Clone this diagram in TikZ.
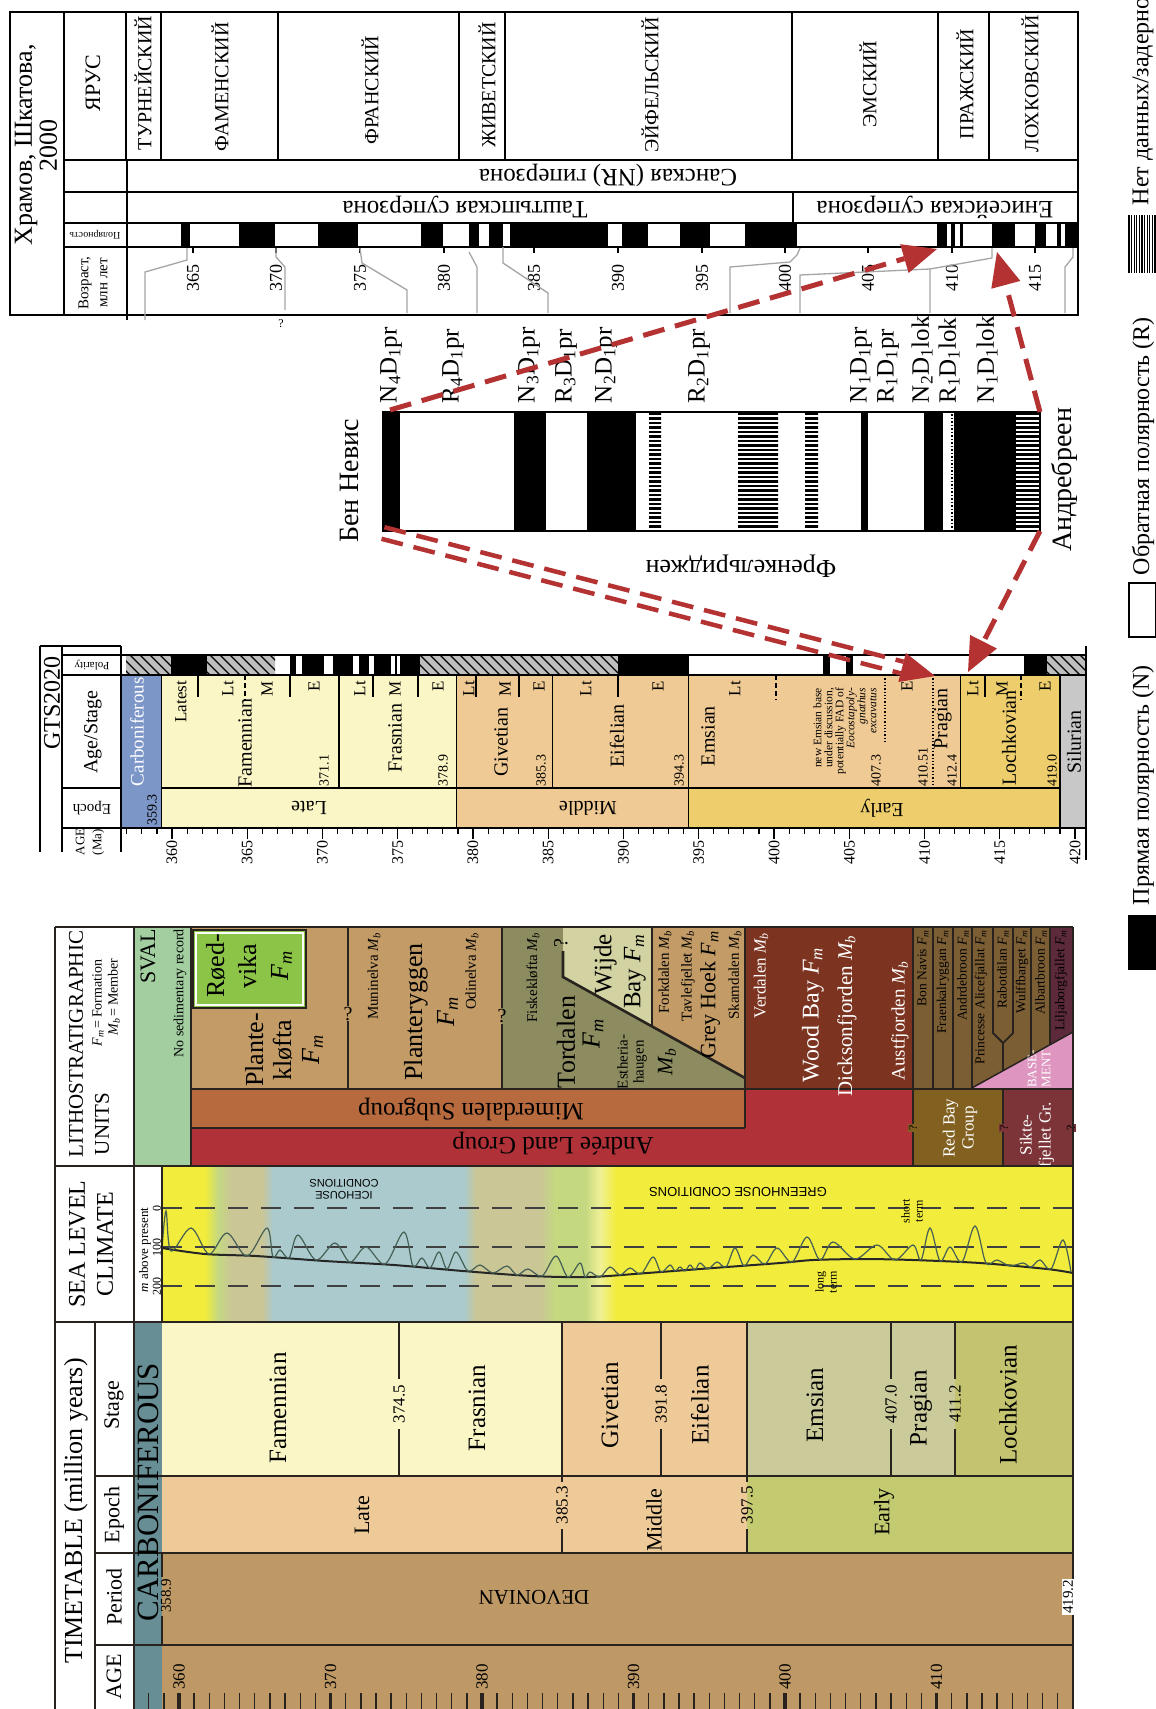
\documentclass[tikz,border=0pt]{standalone}
\usepackage{fontspec}
\setmainfont{Liberation Serif}
\newfontfamily\sansf{Liberation Sans}
\usetikzlibrary{arrows.meta}
\newcommand\fz[2]{\fontsize{#1}{#2}\selectfont}
\newcommand\Fm{\textit{F\textsubscript{m}}}
\newcommand\Mb{\textit{M\textsubscript{b}}}
\newcommand\pl[3]{#1\textsubscript{#2}D\textsubscript{1}#3}
\definecolor{redA}{RGB}{180,50,50}
\definecolor{greyL}{RGB}{165,165,165}
\definecolor{carbB}{RGB}{125,150,200}
\definecolor{lateY}{RGB}{250,246,198}
\definecolor{midT}{RGB}{240,202,148}
\definecolor{earlyY}{RGB}{238,206,108}
\definecolor{silG}{RGB}{200,200,200}
\definecolor{hatG}{RGB}{190,190,190}
\definecolor{tanL}{RGB}{237,202,152}
\definecolor{emsG}{RGB}{203,202,155}
\definecolor{lochO}{RGB}{196,196,112}
\definecolor{earlyG}{RGB}{196,202,112}
\definecolor{devB}{RGB}{190,153,102}
\definecolor{carbT}{RGB}{102,142,148}
\definecolor{seaY}{RGB}{242,236,60}
\definecolor{paleY}{RGB}{240,240,150}
\definecolor{iceB}{RGB}{170,202,205}
\definecolor{khaki}{RGB}{202,198,150}
\definecolor{lgreen}{RGB}{196,216,128}
\definecolor{svalG}{RGB}{162,206,160}
\definecolor{roedG}{RGB}{140,196,72}
\definecolor{planT}{RGB}{194,155,102}
\definecolor{tordO}{RGB}{140,140,96}
\definecolor{wijK}{RGB}{210,210,162}
\definecolor{woodR}{RGB}{124,52,32}
\definecolor{rightB}{RGB}{124,94,52}
\definecolor{mimO}{RGB}{182,106,62}
\definecolor{andR}{RGB}{176,50,56}
\definecolor{redbayB}{RGB}{130,96,32}
\definecolor{sikteR}{RGB}{124,52,56}
\definecolor{liljaP}{RGB}{92,42,58}
\definecolor{baseP}{RGB}{222,150,192}
\definecolor{lineD}{RGB}{40,35,30}
\definecolor{curveG}{RGB}{70,95,85}
\tikzset{
  t/.style={inner sep=0pt, outer sep=0pt},
  r9/.style={t, rotate=90},
  r18/.style={t, rotate=180},
  lk/.style={line width=1.3pt, draw=black},
  lg/.style={line width=1.3pt, draw=black},
  ld/.style={line width=2.6pt, draw=lineD},
  gl/.style={line width=1.3pt, draw=greyL},
  redarr/.style={draw=redA, line width=5pt, dash pattern=on 22pt off 11pt},
  tip/.style={fill=redA},
}
\begin{document}
\begin{tikzpicture}[x=1pt,y=-1pt]
\useasboundingbox (0,0) rectangle (1156,1709);
\fill[white] (0,0) rectangle (1156,1709);

%% ================= KHRAMOV PANEL =================
\foreach \a/\b in {181/190,239/275,318/358,421/443,469/479,489/503,510/608,622/648,680/710,745/797,937/947,951/955,960/963,992/1015,1035/1046,1057/1061,1065/1078}
  \fill[black] (\a,223) rectangle (\b,247);
\draw[lk] (10,12) rectangle (1078,315);
\draw[lk] (64,12) -- (64,315);
\draw[lk] (126,12) -- (126,160);
\draw[line width=2.6pt] (127,160) -- (127,320);
\foreach \y in {160,192,223,247} \draw[lk] (64,\y) -- (1078,\y);
\foreach \x in {161,278,459,505,792,938,989} \draw[lk] (\x,12) -- (\x,160);
\draw[lk] (793,192) -- (793,223);
\foreach \x/\l in {193/365,276/370,360/375,444/380,534/385,618/390,702/395,785/400,868/405,952/410,1035/415}{
  \draw[line width=1.8pt] (\x,247) -- (\x,253);
  \node[r9,font=\fz{18}{18}] (k\l) at (\x,278) {\l};
}
% grey correlation lines
\draw[gl] (187,248) -- (187,260) -- (145,272) -- (145,320);
\draw[gl] (276,248) -- (276,257) -- (285,267) -- (285,310);
\draw[gl] (360,248) -- (362,263) -- (407,290) -- (407,313);
\draw[gl] (469,252) -- (477,267) -- (477,313);
\draw[gl] (503,247) -- (503,263) -- (548,293) -- (548,313);
\draw[gl] (800,248) -- (797,255) -- (790,262) -- (730,267) -- (730,313);
\draw[gl] (800,313) -- (800,275) -- (930,269);
\draw[gl] (992,248) -- (992,258) -- (930,269) -- (930,313);
\draw[gl] (1073,248) -- (1073,257) -- (1065,267) -- (1065,313);
\node[t,font=\fz{12}{12}] (kq) at (281,324) {?};
% texts
\node[r9,align=center,font=\fz{26}{25}] (kh) at (36,145) {Храмов, Шкатова,\\2000};
\node[r9,font=\fz{22}{22}] (kyar) at (93,83) {ЯРУС};
\node[r18,font=\fz{10}{10}] (kpol) at (95,235) {Полярность};
\node[r9,align=center,font=\fz{15}{19}] (kvoz) at (93,283) {Возраст,\\млн лет};
\node[r9,font=\fz{20}{20}] (s1) at (143,83) {ТУРНЕЙСКИЙ};
\node[r9,font=\fz{20}{20}] (s2) at (220,87) {ФАМЕНСКИЙ};
\node[r9,font=\fz{20}{20}] (s3) at (370,90) {ФРАНСКИЙ};
\node[r9,font=\fz{20}{20}] (s4) at (487,85) {ЖИВЕТСКИЙ};
\node[r9,font=\fz{20}{20}] (s5) at (650,85) {ЭЙФЕЛЬСКИЙ};
\node[r9,font=\fz{20}{20}] (s6) at (868,84) {ЭМСКИЙ};
\node[r9,font=\fz{20}{20}] (s7) at (965,84) {ПРАЖСКИЙ};
\node[r9,font=\fz{20}{20}] (s8) at (1030,84) {ЛОХКОВСКИЙ};
\node[r18,font=\fz{25}{25}] (ksan) at (608,176) {Санская (NR) гиперзона};
\node[r18,font=\fz{25}{25}] (ktash) at (465,207) {Таштыпская суперзона};
\node[r18,font=\fz{25}{25}] (kenis) at (935,207) {Енисейская суперзона};

%% ================= LEGEND =================
\fill[black] (1128,915) rectangle (1156,970);
\node[r9,anchor=west,font=\fz{24}{24}] (lg1) at (1143,905) {Прямая полярность (N)};
\draw[line width=1.3pt] (1129,583) rectangle (1156,637);
\node[r9,anchor=west,font=\fz{24}{24}] (lg2) at (1143,575) {Обратная полярность (R)};
\foreach \x in {1129,1131.6,...,1156} \draw[line width=1.2pt] (\x,215) -- (\x,273);
\node[r9,anchor=west,font=\fz{24}{24}] (lg3) at (1143,205) {Нет данных/задерно};

%% ================= BEN NEVIS BAR =================
\fill[white] (383,412) rectangle (1040,531);
\foreach \a/\b in {383/400,514/546,587/636,861/868,924/943,954/1016}
  \fill[black] (\a,412) rectangle (\b,531);
\begin{scope}
  \clip (649,412) rectangle (661,531) (738,412) rectangle (778,531) (805,412) rectangle (818,531) (1016,412) rectangle (1040,531);
  \foreach \y in {414,418.5,...,531} \draw[line width=2.2pt] (640,\y) -- (1045,\y);
\end{scope}
\draw[line width=1.5pt, dotted] (952,414) -- (952,530);
\draw[line width=2.6pt] (383,412) rectangle (1040,531);
\coordinate (bTL) at (390,410);
\coordinate (bBL) at (383,533);
\coordinate (bTR) at (1040,412);
\coordinate (bBR) at (1040,531);
\foreach \x/\n/\s/\e/\nm in {391/N/4/pr/b1,453/R/4/pr/b2,529/N/3/pr/b3,566/R/3/pr/b4,606/N/2/pr/b5,699/R/2/pr/b6,861/N/1/pr/b7,888/R/1/pr/b8,922/N/2/lok/b9,949/R/1/lok/b10,987/N/1/lok/b11}
  \node[r9,anchor=west,font=\fz{25}{25}] (\nm) at (\x,403) {\pl{\n}{\s}{\e}};
\node[r9,font=\fz{28}{28}] (ben) at (349,481) {Бен Невис};
\node[r9,font=\fz{28}{28}] (andr) at (1064,480) {Андребреен};
\node[r18,font=\fz{26}{26}] (fren) at (741,566) {Френкельриджен};

%% ================= GTS2020 PANEL =================
\begin{scope}
  \clip (126,655) rectangle (171,675) (207,655) rectangle (275,675) (420,655) rectangle (618,675) (1047,655) rectangle (1086,675);
  \fill[hatG] (121,655) rectangle (1086,675);
  \foreach \x in {90,100,...,1090} \draw[line width=1.1pt] (\x,655) -- (\x+20,675);
\end{scope}
\foreach \a/\b in {171/207,290/296,302/324,333/353,359/369,374/391,395/397,400/420,618/689,823/830,846/853,1024/1047}
  \fill[black] (\a,655) rectangle (\b,675);
\fill[carbB] (121,675) rectangle (161.5,828);
\fill[lateY] (161.5,675) rectangle (456.4,828);
\fill[midT] (456.4,675) rectangle (960.6,788);
\fill[midT] (456.4,788) rectangle (688.2,828);
\fill[earlyY] (960.6,675) rectangle (1060,788);
\fill[earlyY] (688.2,788) rectangle (1060,828);
\fill[silG] (1060,675) rectangle (1086,828);
\draw[lg] (121,655) -- (1086,655);
\draw[lg] (121,675) -- (1086,675);
\draw[lg] (161.5,788) -- (1060,788);
\draw[lg] (121,828) -- (1086,828);
\draw[lg] (40,646) -- (40,852);
\draw[lg] (40,646) -- (121,646);
\draw[lg] (62,646) -- (62,852);
\draw[lg] (121,646) -- (121,852);
\draw[lg] (1086,646) -- (1086,860);
\draw[lg] (62,655) -- (121,655);
\draw[lg] (62,675) -- (121,675);
\draw[lg] (62,788) -- (121,788);
\draw[lg] (62,828) -- (121,828);
\foreach \x in {161.5,456.4,688.2,1060} \draw[lg] (\x,675) -- (\x,828);
\foreach \x in {339.1,552.8,960.6} \draw[lg] (\x,675) -- (\x,788);
\draw[lg,dotted,line width=1.6pt] (933,675) -- (933,788);
\draw[lg,dotted,line width=1.6pt] (885,675) -- (885,742);
\foreach \x in {198,290,373,418,476,519,618,985} \draw[lg] (\x,675) -- (\x,697);
\foreach \x in {245,776,1021} \draw[lg,dash pattern=on 5pt off 3pt] (\x,675) -- (\x,700);
\foreach \a in {357,...,420}{
  \pgfmathsetmacro\xx{172+(\a-360)*15.05}
  \draw[line width=1.1pt] (\xx,828) -- (\xx,834);
}
\foreach \a in {360,365,...,420}{
  \pgfmathsetmacro\xx{172+(\a-360)*15.05}
  \draw[line width=1.3pt] (\xx,828) -- (\xx,839);
  \node[r9,anchor=east,font=\fz{16}{16}] (ga\a) at (\xx,840) {\a};
}
\node[r9,font=\fz{24}{24}] (gts) at (52,703) {GTS2020};
\node[r18,font=\fz{11}{11}] (gpol) at (92,665) {Polarity};
\node[r9,font=\fz{20}{20}] (gage) at (93,732) {Age/Stage};
\node[r18,font=\fz{15}{15}] (gep) at (92,808) {Epoch};
\node[r9,align=center,font=\fz{13}{17}] (gma) at (90,842) {AGE\\(Ma)};
\node[r9,anchor=west,font=\fz{19}{19},text=white] (gcarb) at (137,786) {Carboniferous};
\node[r9,font=\fz{14}{14}] (g3593) at (152,810) {359.3};
\node[r9,anchor=east,font=\fz{17}{17}] (glat) at (181,681) {Latest};
\foreach \x/\l/\nm in {228/Lt/a1,267/M/a2,314/E/a3,360/Lt/a4,395/M/a5,438/E/a6,469/Lt/a7,505/M/a8,539/E/a9,586/Lt/a10,658/E/a11,735/Lt/a12,907/E/a13,973/Lt/a14,1002/M/a15,1045/E/a16}
  \node[r9,anchor=east,font=\fz{17}{17}] (\nm) at (\x,681) {\l};
\node[r9,font=\fz{20}{20}] (gfam) at (245,743) {Famennian};
\node[r9,font=\fz{20}{20}] (gfra) at (395,738) {Frasnian};
\node[r9,font=\fz{20}{20}] (ggiv) at (501,742) {Givetian};
\node[r9,font=\fz{20}{20}] (geif) at (617,736) {Eifelian};
\node[r9,font=\fz{20}{20}] (gems) at (708,736) {Emsian};
\node[r9,font=\fz{20}{20}] (gpra) at (943,719) {Pragian};
\node[r9,font=\fz{20}{20}] (gloc) at (1009,738) {Lochkovian};
\node[r9,font=\fz{20}{20}] (gsil) at (1074,742) {Silurian};
\foreach \x/\l/\nm in {324/371.1/c1,443/378.9/c2,541/385.3/c3,679/394.3/c4,876/407.3/c5,923/410.51/c6,952/412.4/c7,1052/419.0/c8}
  \node[r9,anchor=west,font=\fz{14}{14}] (\nm) at (\x,786) {\l};
\node[r9,anchor=east,align=right,font=\fz{11.5}{11}] (gnote) at (845,688) {new Emsian base\\under discussion,\\potentially FAD of\\\textit{Eocostapoly-}\\\textit{gnathus}\\\textit{excavatus}};
\node[r18,font=\fz{20}{20}] (glate) at (309,808) {Late};
\node[r18,font=\fz{20}{20}] (gmid) at (588,808) {Middle};
\node[r18,font=\fz{20}{20}] (gearly) at (882,808) {Early};

%% ================= RED ARROWS =================
\coordinate (t1) at (937,249); \coordinate (b1) at (904.4,258.6);
\draw[redarr] (bTL) -- (b1);
\fill[tip] (t1) -- (908.6,273.0) -- (900.2,244.2) -- cycle;
\coordinate (t3) at (997,252); \coordinate (b3) at (1005.8,284.8);
\draw[redarr] (bTR) -- (b3);
\fill[tip] (t3) -- (1020.3,280.9) -- (991.3,288.7) -- cycle;
\coordinate (t4) at (968,672); \coordinate (b4) at (983.5,641.7);
\draw[redarr] (bBR) -- (b4);
\fill[tip] (t4) -- (996.9,648.5) -- (970.1,634.9) -- cycle;
\coordinate (t2) at (935,676);
\coordinate (s2a) at (381.5,538.8); \coordinate (e2a) at (900.6,673.3);
\coordinate (s2b) at (384.5,527.2); \coordinate (e2b) at (903.6,661.7);
\draw[redarr,line width=4.5pt] (s2a) -- (e2a);
\draw[redarr,line width=4.5pt] (s2b) -- (e2b);
\fill[tip] (t2) -- (898.3,682.0) -- (905.9,653.0) -- cycle;

%% ================= LEFT PANEL: LITHOSTRATIGRAPHY =================
\fill[svalG] (134,927) rectangle (191,1166);
\fill[planT] (191,927) rectangle (502,1089);
\fill[tordO] (502,927) rectangle (745,1089);
\fill[wijK] (563,927) -- (652,927) -- (652,1026) -- (563,977) -- cycle;
\fill[planT] (652,927) -- (745,927) -- (745,1078) -- (652,1026) -- cycle;
\fill[woodR] (745,927) rectangle (913,1089);
\fill[rightB] (913,927) rectangle (1073,1089);
\fill[liljaP] (1050,927) rectangle (1073,1089);
\fill[baseP] (970,1089) -- (1073,1032) -- (1073,1089) -- cycle;
\fill[mimO] (191,1089) rectangle (745,1128);
\fill[andR] (191,1128) rectangle (913,1166);
\fill[andR] (745,1089) rectangle (913,1128);
\fill[redbayB] (913,1089) rectangle (1003,1166);
\fill[sikteR] (1003,1089) rectangle (1073,1166);
\fill[roedG] (193,930) rectangle (306,1008);
\draw[line width=2.4pt, draw=lineD] (193,930) rectangle (306,1008);
\draw[line width=1.2pt, draw=white] (196,933) rectangle (303,1005);
\draw[ld] (348,927) -- (348,1006) (348,1021) -- (348,1089);
\draw[ld] (502,927) -- (502,1008) (502,1024) -- (502,1089);
\draw[ld] (563,951) -- (563,977) -- (745,1078);
\draw[ld] (652,927) -- (652,1026);
\draw[ld] (745,927) -- (745,1128);
\draw[ld] (913,927) -- (913,1166);
\draw[ld] (1003,1089) -- (1003,1166);
\draw[ld] (191,927) -- (191,1166);
\draw[ld] (191,1089) -- (1073,1089);
\draw[ld] (191,1128) -- (745,1128);
\foreach \x in {933,953} \draw[line width=1.8pt,draw=lineD] (\x,927) -- (\x,1089);
\draw[line width=1.8pt,draw=lineD] (972,927) -- (972,1088);
\draw[line width=1.8pt,draw=lineD] (993,927) -- (993,1033) -- (1003,1043) -- (1013,1033) -- (1013,927);
\draw[line width=1.8pt,draw=lineD] (1003,1043) -- (1003,1071);
\draw[line width=1.8pt,draw=lineD] (1031,927) -- (1031,1055);
\draw[line width=1.8pt,draw=lineD] (1050,927) -- (1050,1045);
\draw[line width=1.5pt,draw=lineD] (970,1089) -- (1073,1032);
\node[r9,font=\fz{21}{21}] (lh1) at (76,1044) {LITHOSTRATIGRAPHIC};
\node[r9,anchor=west,font=\fz{21}{21}] (lh2) at (102,1155) {UNITS};
\node[r9,font=\fz{14}{14}] (lh3) at (98,1003) {\Fm\,=\,Formation};
\node[r9,font=\fz{14}{14}] (lh4) at (114,997) {\Mb\,=\,Member};
\node[r9,anchor=east,font=\fz{22}{22}] (sval) at (148,929) {SVAL};
\node[r9,anchor=east,font=\fz{14}{14}] (nsr) at (180,929) {No sedimentary record};
\node[r9,align=center,font=\fz{26}{32}] (roed) at (249,966) {Røed-\\vika\\\Fm};
\node[r9,align=center,font=\fz{26}{28}] (plk) at (284,1050) {Plante-\\kløfta\\\Fm};
\node[r9,anchor=east,font=\fz{15}{15}] (mun) at (374,933) {Muninelva \Mb};
\node[r9,align=center,font=\fz{26}{32}] (plr) at (431,1012) {Planteryggen\\\Fm};
\node[r9,anchor=east,font=\fz{15}{15}] (odi) at (472,933) {Odinelva \Mb};
\node[t,font=\fz{20}{20}] (q1) at (348,1014) {?};
\node[t,font=\fz{20}{20}] (q2) at (502,1016) {?};
\node[r9,font=\fz{20}{20}] (q3) at (561,943) {?};
\node[r9,anchor=east,font=\fz{15}{15}] (fis) at (533,933) {Fiskekløfta \Mb};
\node[r9,font=\fz{26}{26}] (tor) at (566,1042) {Tordalen};
\node[r9,font=\fz{26}{26}] (torf) at (593,1034) {\Fm};
\node[r9,align=center,font=\fz{15}{16}] (est) at (632,1062) {Estheria-\\haugen};
\node[r9,font=\fz{22}{22}] (estm) at (667,1062) {\Mb};
\node[r9,anchor=east,align=right,font=\fz{25}{29}] (wij) at (620,934) {Wijde\\Bay \Fm};
\node[r9,anchor=east,font=\fz{15}{15}] (fork) at (665,931) {Forkdalen \Mb};
\node[r9,anchor=east,font=\fz{15}{15}] (tav) at (688,931) {Tavlefjellet \Mb};
\node[r9,anchor=east,font=\fz{22}{22}] (grey) at (710,931) {Grey Hoek \Fm};
\node[r9,anchor=east,font=\fz{15}{15}] (skam) at (735,931) {Skamdalen \Mb};
\node[r9,anchor=east,font=\fz{17}{17},text=white] (verd) at (761,933) {Verdalen \Mb};
\node[r9,font=\fz{24}{24},text=white] (wood) at (813,1015) {Wood Bay \Fm};
\node[r9,font=\fz{21}{21},text=white] (dick) at (847,1016) {Dicksonfjorden \Mb};
\node[r9,font=\fz{19}{19},text=white] (aust) at (900,1021) {Austfjorden \Mb};
\foreach \x/\l/\nm in {923/Bon Navis/f1,943/Fraenkalryggan/f2,963/Andrdebroon/f3,981/Princesse Alicefjallat/f4,1003/Rabotdilan/f5,1022/Wulffbarget/f6,1041/Albartbroon/f7,1061/Liljaborgfjallet/f8}
  \node[r9,anchor=east,font=\fz{13.5}{13.5}] (\nm) at (\x,930) {\l\ \Fm};
\node[r9,align=center,font=\fz{13}{14},text=white] (base) at (1039,1069) {BASE-\\MENT};
\node[r18,font=\fz{25}{25}] (mim) at (471,1109) {Mimerdalen Subgroup};
\node[r18,font=\fz{25}{25}] (and) at (553,1144) {Andrée Land Group};
\node[r9,align=center,font=\fz{17}{19},text=white] (rbg) at (960,1128) {Red Bay\\Group};
\node[r9,align=center,font=\fz{17}{19},text=white] (sik) at (1037,1135) {Sikte-\\fjellet Gr.};
\node[r9,font=\fz{12}{12},fill=redbayB,inner sep=1pt] (q4) at (913,1128) {?};
\node[r9,font=\fz{12}{12},fill=sikteR,inner sep=1pt] (q5) at (1004,1128) {?};
\node[r9,font=\fz{12}{12},fill=sikteR,inner sep=1pt] (q6) at (1071,1128) {?};

%% ================= SEA LEVEL =================
\fill[seaY] (162,1166) rectangle (205,1322);
\shade[left color=seaY,right color=lgreen] (205,1166) rectangle (218,1322);
\shade[left color=lgreen,right color=khaki] (218,1166) rectangle (232,1322);
\fill[khaki] (232,1166) rectangle (262,1322);
\shade[left color=khaki,right color=iceB] (262,1166) rectangle (273,1322);
\fill[iceB] (273,1166) rectangle (464,1322);
\shade[left color=iceB,right color=khaki] (464,1166) rectangle (476,1322);
\fill[khaki] (476,1166) rectangle (540,1322);
\shade[left color=khaki,right color=lgreen] (540,1166) rectangle (555,1322);
\fill[lgreen] (555,1166) rectangle (585,1322);
\shade[left color=lgreen,right color=paleY] (585,1166) rectangle (600,1322);
\shade[left color=paleY,right color=seaY] (600,1166) rectangle (616,1322);
\fill[seaY] (616,1166) rectangle (1073,1322);
\foreach \y in {1208,1247,1286} \draw[line width=1.6pt,draw=black!75,dash pattern=on 20pt off 13pt] (162,\y) -- (1073,\y);
\draw[line width=2pt,draw=black!85] plot[smooth] coordinates {(162,1248) (205,1254) (256,1256) (325,1261) (394,1265) (463,1271) (532,1276) (589,1277) (647,1273) (713,1268) (780,1263) (813,1260) (863,1259) (913,1260) (980,1263) (1047,1269) (1073,1273)};
\draw[line width=1.2pt,draw=curveG] plot[smooth,tension=0.55] coordinates {(162,1249) (166,1211) (171,1251) (191,1228) (209,1254) (227,1233) (247,1256) (267,1228) (273,1257) (280,1250) (289,1258) (298,1235) (316,1260) (335,1243) (350,1262) (366,1247) (385,1264) (404,1232) (413,1266) (422,1258) (430,1268) (439,1252) (447,1269) (456,1252) (468,1271) (480,1265) (493,1273) (507,1266) (517,1275) (528,1269) (542,1276) (556,1256) (568,1277) (580,1263) (585,1277) (590,1272) (600,1277) (610,1267) (620,1275) (630,1268) (641,1274) (653,1257) (661,1272) (670,1265) (675,1271) (680,1267) (685,1271) (690,1265) (695,1270) (700,1263) (708,1269) (717,1262) (726,1267) (735,1248) (744,1266) (753,1255) (765,1264) (777,1248) (792,1262) (807,1237) (820,1260) (833,1242) (855,1259) (877,1245) (895,1260) (913,1245) (921,1260) (930,1228) (940,1261) (950,1247) (962,1262) (975,1226) (986,1263) (997,1260) (1010,1266) (1023,1263) (1031,1267) (1040,1260) (1051,1269) (1063,1240) (1071,1272)};
\node[r9,align=center,font=\fz{24}{28}] (sea) at (91,1244) {SEA LEVEL\\CLIMATE};
\node[r9,font=\fz{13}{13}] (mab) at (145,1250) {\textit{m} above present};
\node[r9,font=\fz{12}{12}] (m0) at (157,1208) {0};
\node[r9,font=\fz{12}{12}] (m1) at (157,1247) {100};
\node[r9,font=\fz{12}{12}] (m2) at (157,1286) {200};
\node[r18,align=center,font=\sansf\fz{11}{12}] (ice) at (344,1189) {ICEHOUSE\\CONDITIONS};
\node[r18,font=\sansf\fz{13}{13}] (green) at (738,1192) {GREENHOUSE CONDITIONS};
\node[r9,align=center,font=\fz{12}{13}] (sht) at (912,1211) {short\\term};
\node[r9,align=center,font=\fz{12}{13}] (lngt) at (826,1282) {long\\term};

%% ================= TIMETABLE =================
\fill[carbT] (134,1322) rectangle (162,1709);
\fill[lateY] (162,1322) rectangle (562,1476);
\fill[tanL] (562,1322) rectangle (747,1476);
\fill[emsG] (747,1322) rectangle (955,1476);
\fill[lochO] (955,1322) rectangle (1073,1476);
\fill[tanL] (162,1476) rectangle (747,1553);
\fill[earlyG] (747,1476) rectangle (1073,1553);
\fill[devB] (162,1553) rectangle (1073,1709);
\draw[ld] (562,1322) -- (562,1476);
\draw[ld] (747,1322) -- (747,1476);
\foreach \x in {399,661,891,955} \draw[ld] (\x,1322) -- (\x,1379) (\x,1429) -- (\x,1476);
\foreach \x in {562,747} \draw[ld] (\x,1476) -- (\x,1482) (\x,1529) -- (\x,1553);
\draw[ld] (162,1553) -- (162,1577) (162,1616) -- (162,1645);
\draw[ld] (55,927) -- (1073,927);
\draw[ld] (55,927) -- (55,1709);
\draw[ld] (1073,927) -- (1073,1580) (1073,1614) -- (1073,1709);
\draw[ld] (134,927) -- (134,1709);
\draw[ld] (162,1166) -- (162,1322);
\draw[ld] (55,1166) -- (1073,1166);
\draw[ld] (55,1322) -- (1073,1322);
\draw[ld] (95,1322) -- (95,1709);
\draw[ld] (95,1476) -- (1073,1476);
\draw[ld] (95,1553) -- (1073,1553);
\draw[ld] (95,1645) -- (1073,1645);
\foreach \a in {357,...,419}{
  \pgfmathsetmacro\xx{179+(\a-360)*15.15}
  \draw[line width=1.4pt,draw=lineD] (\xx,1693) -- (\xx,1709);
}
\foreach \a in {360,370,...,410}{
  \pgfmathsetmacro\xx{179+(\a-360)*15.15}
  \draw[line width=3.2pt,draw=lineD] (\xx,1693) -- (\xx,1709);
  \node[r9,font=\fz{17}{17}] (ta\a) at (\xx,1677) {\a};
}
\node[r9,font=\fz{26}{26}] (ttl) at (76,1511) {TIMETABLE (million years)};
\node[r9,font=\fz{22}{22}] (hst) at (114,1405) {Stage};
\node[r9,font=\fz{22}{22}] (hep) at (114,1515) {Epoch};
\node[r9,font=\fz{22}{22}] (hpe) at (114,1597) {Period};
\node[r9,font=\fz{22}{22}] (hag) at (114,1677) {AGE};
\node[r9,font=\fz{31}{31}] (carb) at (148,1492) {CARBONIFEROUS};
\node[r9,font=\fz{25}{25}] (tfam) at (278,1408) {Famennian};
\node[r9,font=\fz{25}{25}] (tfra) at (477,1408) {Frasnian};
\node[r9,font=\fz{25}{25}] (tgiv) at (610,1405) {Givetian};
\node[r9,font=\fz{25}{25}] (teif) at (700,1405) {Eifelian};
\node[r9,font=\fz{25}{25}] (tems) at (815,1405) {Emsian};
\node[r9,font=\fz{25}{25}] (tpra) at (921,1408) {Pragian};
\node[r9,font=\fz{25}{25}] (tloc) at (1008,1405) {Lochkovian};
\foreach \x/\l/\nm in {399/374.5/d1,661/391.8/d2,891/407.0/d3,955/411.2/d4}
  \node[r9,font=\fz{17}{17}] (\nm) at (\x,1404) {\l};
\node[r9,font=\fz{17}{17}] (d5) at (562,1505) {385.3};
\node[r9,font=\fz{17}{17}] (d6) at (747,1505) {397.5};
\node[r9,font=\fz{22}{22}] (tlate) at (362,1515) {Late};
\node[r9,font=\fz{22}{22}] (tmid) at (654,1520) {Middle};
\node[r9,font=\fz{22}{22}] (tearly) at (884,1512) {Early};
\node[r18,font=\fz{21}{21}] (dev) at (534,1597) {DEVONIAN};
\node[r9,font=\fz{15}{15}] (d7) at (166,1596) {358.9};
\node[r9,font=\fz{15}{15},fill=white,inner sep=1pt] (d8) at (1068,1597) {419.2};
\end{tikzpicture}
\end{document}
